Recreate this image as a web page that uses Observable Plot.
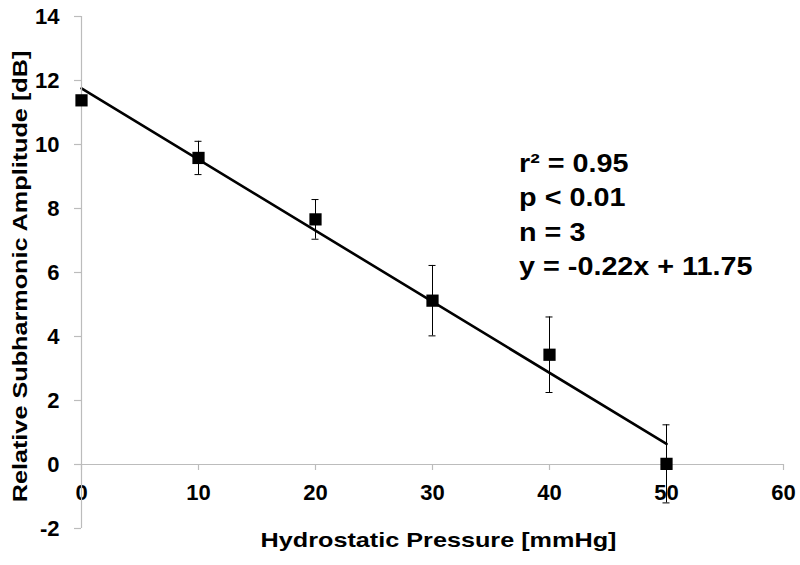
<!DOCTYPE html>
<html>
<head>
<meta charset="utf-8">
<script src="https://cdn.jsdelivr.net/npm/d3@7"></script>
<script src="https://cdn.jsdelivr.net/npm/@observablehq/plot@0.6"></script>
<style>
  html, body { margin: 0; padding: 0; background: #fff; }
  #chart { width: 800px; height: 565px; }
</style>
</head>
<body>
<div id="chart"></div>
<script>
const pressure = [0, 10, 20, 30, 40, 50];
const amplitude = [11.38, 9.58, 7.66, 5.12, 3.43, 0.02];
const errorBar = [0.15, 0.52, 0.62, 1.1, 1.18, 1.22];
const xTicks = [0, 10, 20, 30, 40, 50, 60];
const yTicks = [-2, 0, 2, 4, 6, 8, 10, 12, 14];
const xTitle = "Hydrostatic Pressure [mmHg]";
const yTitle = "Relative Subharmonic Amplitude [dB]";
const statsLines = ["r\u00B2 = 0.95", "p < 0.01", "n = 3", "y = -0.22x + 11.75"];

const data = pressure.map((p, i) => ({x: p, y: amplitude[i], e: errorBar[i]}));

const axisGray = "#bcbcbc";
const font = "'Liberation Sans', Arial, sans-serif";

const chart = Plot.plot({
  width: 800,
  height: 565,
  marginLeft: 81,
  marginRight: 17,
  marginTop: 16,
  marginBottom: 37,
  style: {fontFamily: font, fontWeight: "bold", background: "#fff", color: "#000"},
  x: {domain: [0, 60], axis: null},
  y: {domain: [-2, 14], axis: null},
  marks: [
    // x axis line at y = 0
    Plot.ruleY([0], {x1: 0, x2: 60, stroke: axisGray, strokeWidth: 1.2, insetLeft: -6}),
    // y ticks
    Plot.ruleY(yTicks, {x1: 0, x2: 0, stroke: axisGray, strokeWidth: 1.2, insetLeft: -7}),
    // x ticks (downward from y = 0)
    Plot.ruleX(xTicks, {y1: 0, y2: 0, stroke: axisGray, strokeWidth: 1.2, insetBottom: -6}),
    // y tick labels
    Plot.text(yTicks, {x: 0, y: d => d, text: d => String(d), textAnchor: "end", dx: -22, fontSize: 22, fontWeight: "bold", fill: "#000"}),
    // x tick labels
    Plot.text(xTicks, {x: d => d, y: 0, text: d => String(d), dy: 28, fontSize: 22, fontWeight: "bold", fill: "#000"}),
    // regression line
    Plot.linearRegressionY(data, {x: "x", y: "y", ci: 0, stroke: "#000", strokeWidth: 2.6}),
    // error bars
    Plot.ruleX(data, {x: "x", y1: d => d.y - d.e, y2: d => d.y + d.e, stroke: "#000", strokeWidth: 1}),
    Plot.ruleY(data, {y: d => d.y - d.e, x1: "x", x2: "x", stroke: "#000", strokeWidth: 1, insetLeft: -3.5, insetRight: -3.5}),
    Plot.ruleY(data, {y: d => d.y + d.e, x1: "x", x2: "x", stroke: "#000", strokeWidth: 1, insetLeft: -3.5, insetRight: -3.5}),
    // y axis line (drawn over the error bars, as in the reference)
    Plot.ruleX([0], {y1: -2, y2: 14, stroke: axisGray, strokeWidth: 1.2}),
    // markers
    Plot.dot(data, {x: "x", y: "y", symbol: "square", r: 6.9, fill: "#000", stroke: "none"}),
    // stats annotation
    Plot.text([statsLines.join("\n")], {x: 37.4, y: 9.9, text: d => d, textAnchor: "start", lineAnchor: "top", lineHeight: 1.37, fontSize: 25, fontWeight: "bold", fill: "#000"}),
    // axis titles
    Plot.text([xTitle], {frameAnchor: "bottom", text: d => d, textAnchor: "middle", lineAnchor: "middle", dx: 6, dy: 12, fontSize: 20.5, fontWeight: "bold", fill: "#000"}),
    Plot.text([yTitle], {frameAnchor: "left", text: d => d, rotate: -90, textAnchor: "middle", lineAnchor: "middle", dx: -61, dy: 4, fontSize: 20.5, fontWeight: "bold", fill: "#000"})
  ]
});

document.getElementById("chart").appendChild(chart);

// The reference renders its text wider than the font's natural advance; stretch it horizontally.
function widen(el, factor) {
  const len = el.getComputedTextLength();
  el.setAttribute("textLength", (len * factor).toFixed(1));
  el.setAttribute("lengthAdjust", "spacingAndGlyphs");
}
chart.querySelectorAll("text").forEach(t => {
  if (t.textContent === xTitle || t.textContent === yTitle) widen(t, 1.23);
});
chart.querySelectorAll("tspan").forEach(t => {
  if (statsLines.includes(t.textContent)) widen(t, 1.15);
});
</script>
</body>
</html>
